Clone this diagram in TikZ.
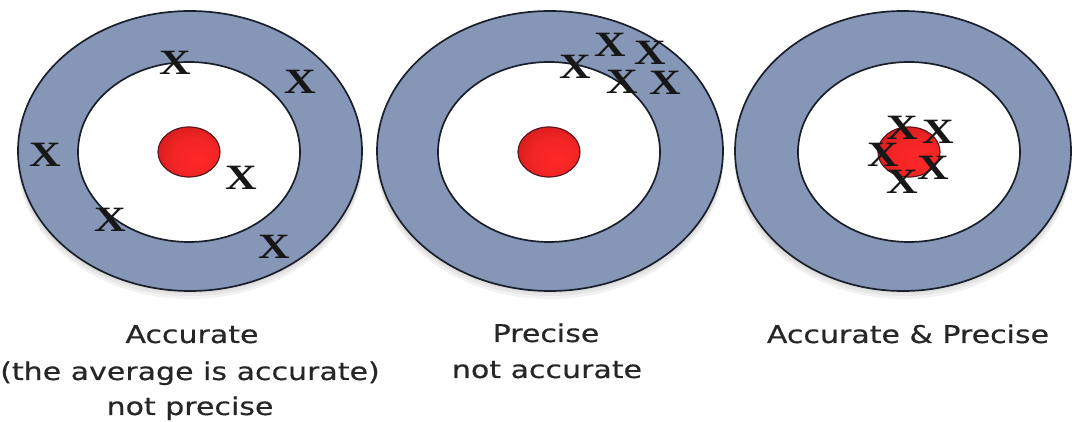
\documentclass[tikz,border=0pt]{standalone}
\usepackage{fontspec}
\setmainfont[FakeBold=0.4]{DejaVu Sans}
\newfontfamily\xfont{Liberation Serif}
\usepackage{tikz}
\definecolor{ringlite}{HTML}{8696B7}
\definecolor{ringmid}{HTML}{7686A8}
\definecolor{ringdark}{HTML}{607196}
\definecolor{holeedge}{HTML}{D6D8DF}
\definecolor{bullhot}{HTML}{FF2828}
\definecolor{bulldeep}{HTML}{B01212}
\definecolor{rim}{HTML}{1A202B}
\definecolor{ink}{HTML}{262626}
\pgfdeclareradialshading{ringshade}{\pgfpointorigin}{color(0bp)=(ringlite); color(34bp)=(ringlite); color(43bp)=(ringmid); color(50bp)=(ringdark)}
\pgfdeclareradialshading{holeshade}{\pgfpointorigin}{color(0bp)=(white); color(37bp)=(white); color(50bp)=(holeedge)}
\pgfdeclareradialshading{bullshade}{\pgfpoint{8bp}{-8bp}}{color(0bp)=(bullhot); color(18bp)=(bullhot!85!bulldeep); color(50bp)=(bulldeep)}
\tikzset{
  tgtout/.style={draw=rim,line width=0.85pt,shading=ringshade},
  tgtin/.style={draw=rim,line width=0.85pt,shading=holeshade},
  bull/.style={draw=rim!70!red,line width=0.6pt,shading=bullshade},
  xmk/.style={font=\xfont\bfseries\fontsize{17.8}{17.8}\selectfont,text=ink!60!black,
    xscale=1.23,transform shape,inner sep=0pt},
  lbl/.style={font=\fontsize{12.2}{14}\selectfont,text=ink,xscale=1.23,transform shape,
    anchor=base,inner sep=0pt}
}

\begin{document}
\begin{tikzpicture}[x=0.5pt,y=-0.5pt]
\useasboundingbox (0,0) rectangle (1072,422);
\foreach \n/\ox/\orx/\ix/\xs in {%
   1/190/86/189/{175/63,300/82,45/155,241/178,110/220,274/247},
   2/550/86.5/549/{575/67,610/45,650/53,622/82,665/83},
   3/903/84/909/{902/128,938/132,883/155,933/168,902/182}}{
  % soft shadow under the target
  \foreach \s in {3,6,9,12}
    \fill[black,opacity=0.05] (\ox,{151+\s}) ellipse [x radius=\orx pt,y radius=68pt];
  \shade[tgtout] (\ox,151) ellipse [x radius=\orx pt,y radius=70pt];
  \shade[tgtin] (\ix,152) ellipse [x radius=55.5pt,y radius=45pt];
  \shade[bull] (\ix,152) ellipse [x radius=15.5pt,y radius=12.5pt];
  \foreach \px/\py [count=\k] in \xs
    \node[xmk] (x\n-\k) at (\px,\py) {X};
}
% captions
\node[lbl] (acc) at (192,343) {Accurate};
\node[lbl] (accavg) at (190,380) {(the average is accurate)};
\node[lbl] (accnp) at (190,415) {not precise};
\node[lbl] (pre) at (546,342) {Precise};
\node[lbl] (prena) at (547,378) {not accurate};
\node[lbl] (both) at (908,343) {Accurate \& Precise};
\end{tikzpicture}
\end{document}
